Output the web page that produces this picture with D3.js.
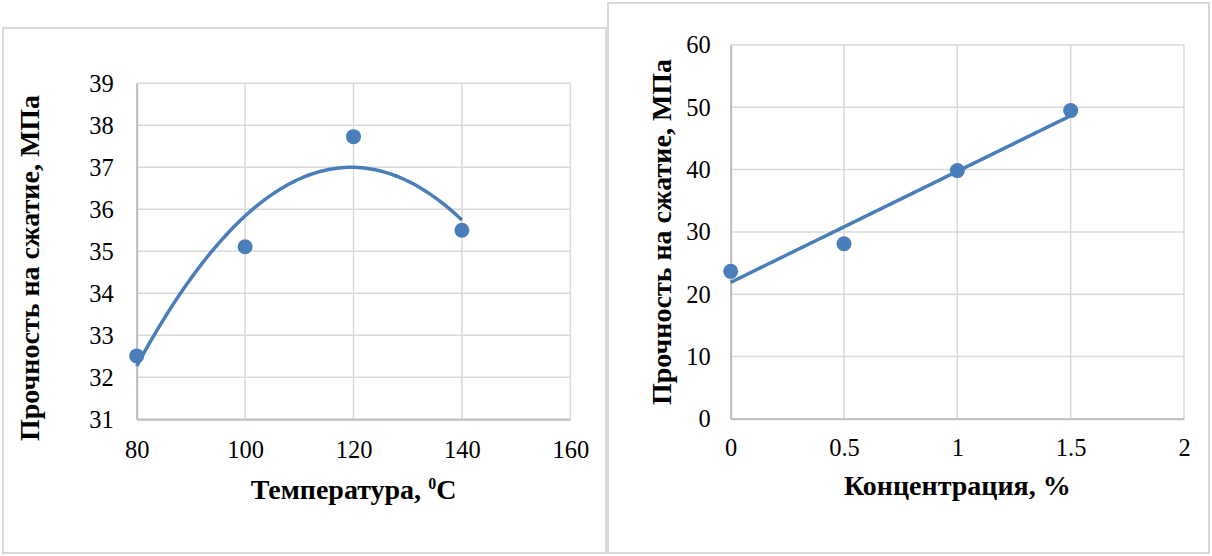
<!DOCTYPE html>
<html><head><meta charset="utf-8">
<script src="https://cdn.jsdelivr.net/npm/d3@7"></script>
<style>
html,body{margin:0;padding:0;background:#fff;}
svg{display:block;}
text{font-family:"Liberation Serif","Times New Roman",serif;fill:#000;}
</style></head>
<body>
<svg id="c" width="1212" height="556"></svg>
<script>
// ---- Data ----
const tempX = [80, 100, 120, 140];
const tempY = [32.51, 35.11, 37.73, 35.5];
const tempXTicks = [80, 100, 120, 140, 160];
const tempYTicks = [31, 32, 33, 34, 35, 36, 37, 38, 39];

const concX = [0, 0.5, 1, 1.5];
const concY = [23.67, 28.1, 39.84, 49.47];
const concXTicks = [0, 0.5, 1, 1.5, 2];
const concYTicks = [0, 10, 20, 30, 40, 50, 60];

const yTitle = "Прочность на сжатие, МПа";
const tempXTitle = "Температура, ";
const concXTitle = "Концентрация, %";

const BLUE = "#4A7EBB", GRID = "#D9D9D9", AXIS = "#BFBFBF", BORDER = "#D9D9D9";

const svg = d3.select("#c");

// least squares polynomial fit (trendline)
function polyfit(xs, ys, deg) {
  const n = deg + 1;
  const A = Array.from({length: n}, () => new Array(n + 1).fill(0));
  xs.forEach((x, i) => {
    for (let r = 0; r < n; r++) {
      for (let c = 0; c < n; c++) A[r][c] += Math.pow(x, r + c);
      A[r][n] += ys[i] * Math.pow(x, r);
    }
  });
  for (let i = 0; i < n; i++) {
    let p = i;
    for (let k = i + 1; k < n; k++) if (Math.abs(A[k][i]) > Math.abs(A[p][i])) p = k;
    [A[i], A[p]] = [A[p], A[i]];
    for (let k = i + 1; k < n; k++) {
      const f = A[k][i] / A[i][i];
      for (let j = i; j <= n; j++) A[k][j] -= f * A[i][j];
    }
  }
  const coef = new Array(n).fill(0);
  for (let i = n - 1; i >= 0; i--) {
    let s = A[i][n];
    for (let j = i + 1; j < n; j++) s -= A[i][j] * coef[j];
    coef[i] = s / A[i][i];
  }
  return x => coef.reduce((acc, c, i) => acc + c * Math.pow(x, i), 0);
}

function panel(o) {
  const g = svg.append("g");
  g.append("rect").attr("x", o.box[0]).attr("y", o.box[1])
    .attr("width", o.box[2]).attr("height", o.box[3])
    .attr("fill", "#fff").attr("stroke", BORDER).attr("stroke-width", 2);

  const x = d3.scaleLinear().domain(o.xDom).range(o.xRange);
  const y = d3.scaleLinear().domain(o.yDom).range(o.yRange);

  // gridlines
  g.append("g").selectAll("line").data(o.yTicks).join("line")
    .attr("x1", o.xRange[0]).attr("x2", o.xRange[1])
    .attr("y1", d => y(d)).attr("y2", d => y(d))
    .attr("stroke", GRID).attr("stroke-width", 1.5);
  g.append("g").selectAll("line").data(o.xTicks).join("line")
    .attr("y1", o.yRange[0]).attr("y2", o.yRange[1])
    .attr("x1", d => x(d)).attr("x2", d => x(d))
    .attr("stroke", GRID).attr("stroke-width", 1.5);

  // axes
  const ax = g.append("g").attr("transform", `translate(0,${o.yRange[0]})`)
    .call(d3.axisBottom(x).tickValues(o.xTicks).tickSize(0).tickPadding(0).tickFormat(d3.format("")));
  ax.attr("font-size", 24).attr("font-family", "Liberation Serif");
  ax.select(".domain").attr("stroke", AXIS).attr("stroke-width", 2);
  ax.selectAll("text").attr("font-size", 24.5).attr("dy", null).attr("y", o.xTickBase - o.yRange[0]);
  const ay = g.append("g").attr("transform", `translate(${o.xRange[0]},0)`)
    .call(d3.axisLeft(y).tickValues(o.yTicks).tickSize(0).tickPadding(o.yTickPad).tickFormat(d3.format("")));
  ay.attr("font-size", 24).attr("font-family", "Liberation Serif");
  ay.select(".domain").attr("stroke", AXIS).attr("stroke-width", 2);
  ay.selectAll("text").attr("font-size", 24.5);

  // trendline
  const f = polyfit(o.xs, o.ys, o.deg);
  const pts = d3.range(0, 101).map(i => {
    const xv = o.xs[0] + (o.xs[o.xs.length - 1] - o.xs[0]) * i / 100;
    return [xv, f(xv)];
  });
  g.append("path").datum(pts)
    .attr("d", d3.line().x(d => x(d[0])).y(d => y(d[1])))
    .attr("fill", "none").attr("stroke", BLUE).attr("stroke-width", 3.5);

  // markers
  g.append("g").selectAll("circle").data(o.xs.map((v, i) => [v, o.ys[i]])).join("circle")
    .attr("cx", d => x(d[0])).attr("cy", d => y(d[1])).attr("r", 7.5).attr("fill", BLUE);

  // titles
  const xt = g.append("text").attr("x", (o.xRange[0] + o.xRange[1]) / 2).attr("y", o.xTitleBase)
    .attr("text-anchor", "middle").attr("font-size", 28).attr("font-weight", "bold");
  xt.append("tspan").text(o.xTitle);
  if (o.sup) {
    xt.append("tspan").text(o.sup[0]).attr("font-size", 16).attr("dy", -10);
    xt.append("tspan").text(o.sup[1]).attr("dy", 10);
  }
  g.append("text").attr("transform", `translate(${o.yTitleX},${o.yTitleY}) rotate(-90)`)
    .attr("text-anchor", "middle").attr("font-size", 28).attr("font-weight", "bold").text(yTitle);
}

panel({
  box: [3, 28, 603, 525],
  xDom: [80, 160], xRange: [136.7, 570.3],
  yDom: [31, 39], yRange: [419.3, 83.3],
  xTicks: tempXTicks, yTicks: tempYTicks,
  xs: tempX, ys: tempY, deg: 2,
  xTickBase: 458, yTickPad: 23,
  xTitle: tempXTitle, sup: ["0", "C"], xTitleBase: 499,
  yTitleX: 39, yTitleY: 268
});

panel({
  box: [608, 3, 601, 550],
  xDom: [0, 2], xRange: [730.7, 1184],
  yDom: [0, 60], yRange: [418.8, 45],
  xTicks: concXTicks, yTicks: concYTicks,
  xs: concX, ys: concY, deg: 1,
  xTickBase: 456, yTickPad: 20,
  xTitle: concXTitle, sup: null, xTitleBase: 495,
  yTitleX: 671, yTitleY: 232
});
</script>
</body></html>
